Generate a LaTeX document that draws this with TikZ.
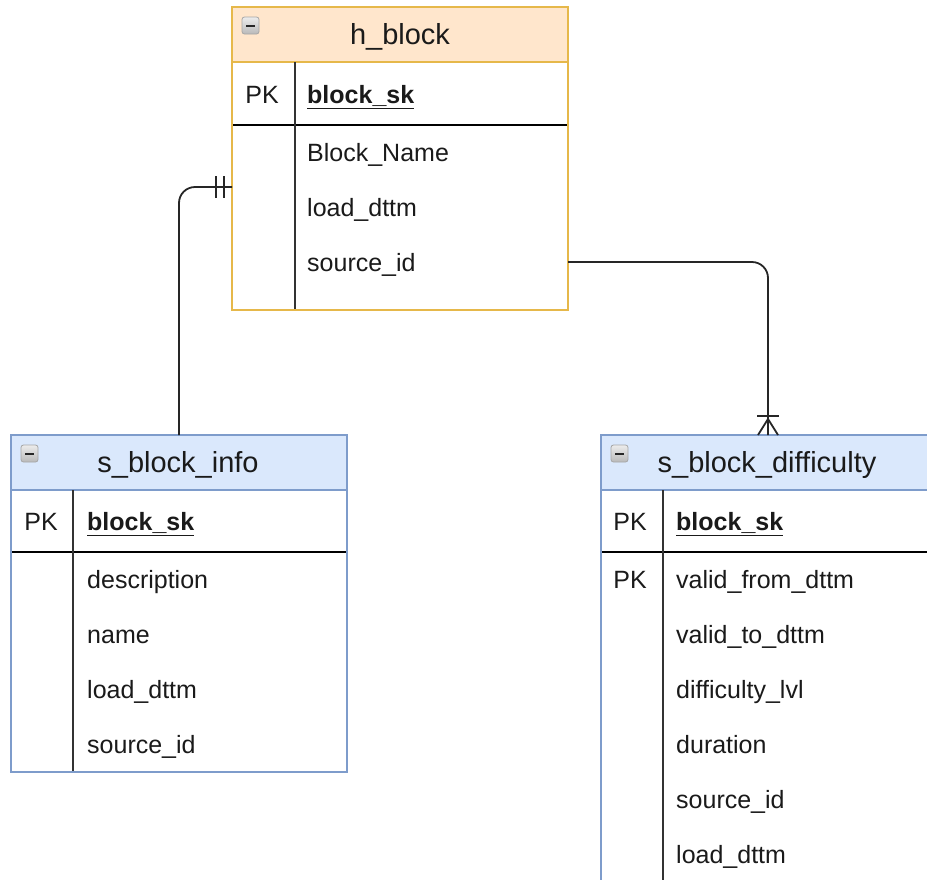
\documentclass[tikz,border=0pt]{standalone}
\usepackage{fontspec}
\setmainfont{Liberation Sans}
\usetikzlibrary{calc}
\definecolor{orfill}{HTML}{FFE6CC}
\definecolor{orline}{HTML}{E6B84A}
\definecolor{blfill}{HTML}{DAE8FC}
\definecolor{blline}{HTML}{7E9CCB}
\definecolor{txt}{HTML}{1A1A1A}
\begin{document}
\begin{tikzpicture}[x=1pt,y=-1pt,
  rowtext/.style={anchor=west,inner sep=0pt,text height=18pt,text depth=5pt,font=\fontsize{25}{27}\selectfont,text=txt},
  pktext/.style={anchor=center,inner sep=0pt,text height=18pt,text depth=5pt,font=\fontsize{25}{27}\selectfont,text=txt},
  keytext/.style={anchor=west,inner sep=0pt,text height=18pt,text depth=5pt,font=\fontsize{25}{27}\selectfont\bfseries,text=txt},
  titletext/.style={anchor=center,inner sep=0pt,text height=21pt,text depth=6pt,font=\fontsize{29}{31}\selectfont,text=txt},
  divider/.style={draw=black!80,line width=1.6pt},
  keyline/.style={draw=black,line width=1.8pt},
  icon/.style={draw=gray!70,rounded corners=2.5pt,top color=gray!15,bottom color=gray!55,line width=0.8pt},
  conn/.style={draw=black!85,line width=1.8pt,rounded corners=16pt},
  ermark/.style={draw=black!85,line width=1.8pt}
]
\useasboundingbox (0,0) rectangle (927,879);
% ---------- h_block ----------
\fill[white] (232,7) rectangle (568,310);
\fill[orfill] (232,7) rectangle (568,62);
\draw[orline,line width=2pt] (232,62) -- (568,62);
\draw[keyline] (232,125) -- (568,125);
\draw[divider] (295,62) -- (295,310);
\draw[orline,line width=2pt] (232,7) rectangle (568,310);
\draw[icon] (242,17) rectangle (259,34);
\draw[black!85,line width=2pt] (246,26) -- (255,26);
\node[titletext] (hT) at (400,37) {h\_block};
\node[pktext] (hPK) at (262,97) {PK};
\node[keytext] (hK) at (307,97) {\underline{block\_sk}};
\node[rowtext] (h1) at (307,155) {Block\_Name};
\node[rowtext] (h2) at (307,210) {load\_dttm};
\node[rowtext] (h3) at (307,265) {source\_id};
\coordinate (hL) at (232,187);
\coordinate (hR) at (568,262);
% ---------- s_block_info ----------
\fill[white] (11,435) rectangle (347,772);
\fill[blfill] (11,435) rectangle (347,490);
\draw[blline,line width=2pt] (11,490) -- (347,490);
\draw[keyline] (11,552) -- (347,552);
\draw[divider] (73,490) -- (73,772);
\draw[blline,line width=2pt] (11,435) rectangle (347,772);
\draw[icon] (21,445) rectangle (38,462);
\draw[black!85,line width=2pt] (25,454) -- (34,454);
\node[titletext] (iT) at (178,465) {s\_block\_info};
\node[pktext] (iPK) at (41,524) {PK};
\node[keytext] (iK) at (87,524) {\underline{block\_sk}};
\node[rowtext] (i1) at (87,582) {description};
\node[rowtext] (i2) at (87,637) {name};
\node[rowtext] (i3) at (87,692) {load\_dttm};
\node[rowtext] (i4) at (87,747) {source\_id};
\coordinate (iTop) at (179,435);
% ---------- s_block_difficulty ----------
\fill[white] (601,435) rectangle (937,890);
\fill[blfill] (601,435) rectangle (937,490);
\draw[blline,line width=2pt] (601,490) -- (937,490);
\draw[keyline] (601,552) -- (937,552);
\draw[divider] (663,490) -- (663,890);
\draw[blline,line width=2pt] (601,890) -- (601,435) -- (937,435);
\draw[icon] (611,445) rectangle (628,462);
\draw[black!85,line width=2pt] (615,454) -- (624,454);
\node[titletext] (dT) at (767,465) {s\_block\_difficulty};
\node[pktext] (dPK) at (630,524) {PK};
\node[keytext] (dK) at (676,524) {\underline{block\_sk}};
\node[pktext] (dPK2) at (630,582) {PK};
\node[rowtext] (d1) at (676,582) {valid\_from\_dttm};
\node[rowtext] (d2) at (676,637) {valid\_to\_dttm};
\node[rowtext] (d3) at (676,692) {difficulty\_lvl};
\node[rowtext] (d4) at (676,747) {duration};
\node[rowtext] (d5) at (676,802) {source\_id};
\node[rowtext] (d6) at (676,857) {load\_dttm};
\coordinate (dTop) at (768,435);
% ---------- connectors ----------
\draw[conn] (iTop) |- (hL);
\draw[ermark] (216,176) -- (216,198);
\draw[ermark] (224,176) -- (224,198);
\draw[conn] (hR) -| (dTop);
\draw[ermark] (757,416) -- (779,416);
\draw[ermark,line join=round] (758,435) -- (768,419) -- (778,435);
\end{tikzpicture}
\end{document}
